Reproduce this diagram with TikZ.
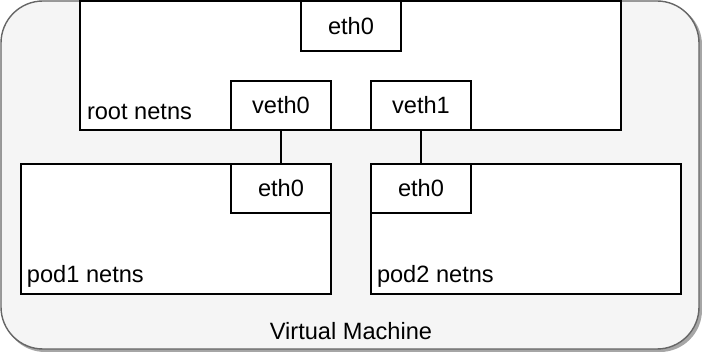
\documentclass[tikz,border=0pt]{standalone}
\usepackage{fontspec}
\setmainfont{Liberation Sans}
\begin{document}
\begin{tikzpicture}[x=1pt,y=-1pt,
  every node/.style={inner sep=0pt,outer sep=0pt,font=\fontsize{23.6}{28}\selectfont},
  box/.style={draw=black,line width=2pt,fill=white,rectangle},
  lbl/.style={anchor=base west},
  link/.style={draw=black,line width=1.6pt}]
\useasboundingbox (0,0) rectangle (702,352);
% shadow of the machine
\fill[black!35,rounded corners=42pt] (3,3) rectangle (702,352);
\node[draw=black!60,line width=1.4pt,fill=black!4,rounded corners=42pt,
      minimum width=698pt,minimum height=348pt] (vm) at (350,175) {};
\node[anchor=base] (vmlbl) at (351,340) {Virtual Machine};
% root netns
\node[box,minimum width=541pt,minimum height=129pt] (root) at (350.5,65.5) {};
\node[lbl] (rootlbl) at (87,120) {root netns};
\node[box,minimum width=100pt,minimum height=50pt] (rooteth) at (351,26) {eth0};
\node[box,minimum width=100pt,minimum height=49pt] (veth0) at (281,105.5) {veth0};
\node[box,minimum width=100pt,minimum height=49pt] (veth1) at (421,105.5) {veth1};
% pods
\node[box,minimum width=310pt,minimum height=130pt] (pod1) at (176,229) {};
\node[lbl] (pod1lbl) at (27,283) {pod1 netns};
\node[box,minimum width=100pt,minimum height=49pt] (pod1eth) at (281,188.5) {eth0};
\node[box,minimum width=310pt,minimum height=130pt] (pod2) at (526,229) {};
\node[lbl] (pod2lbl) at (377,283) {pod2 netns};
\node[box,minimum width=100pt,minimum height=49pt] (pod2eth) at (421,188.5) {eth0};
% links
\draw[link] (veth0.south) -- (pod1eth.north);
\draw[link] (veth1.south) -- (pod2eth.north);
\end{tikzpicture}
\end{document}
